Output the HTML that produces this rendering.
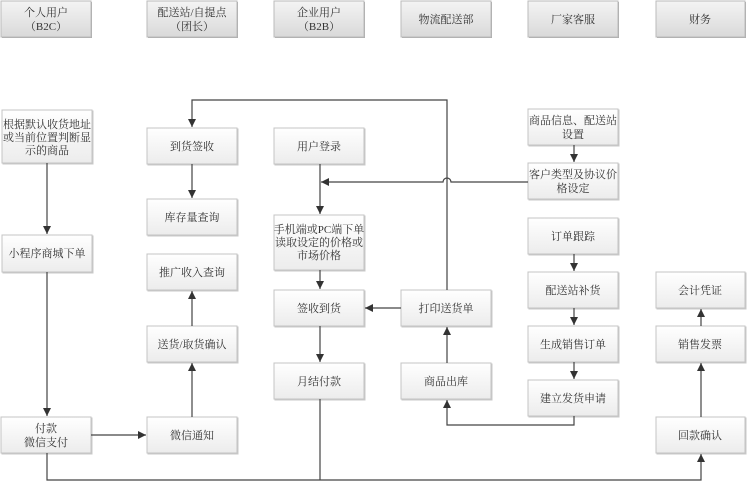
<!DOCTYPE html>
<html><head><meta charset="utf-8"><style>
html,body{margin:0;padding:0;background:#fff}
svg{display:block}
text{font-family:"Liberation Serif","Noto Serif CJK SC","Noto Sans CJK SC",serif;font-size:11px;fill:#333}
</style></head><body>
<svg width="747" height="481" viewBox="0 0 747 481" xmlns="http://www.w3.org/2000/svg">
<defs>
<linearGradient id="h" x1="0" y1="0" x2="0" y2="1"><stop offset="0" stop-color="#f4f4f4"/><stop offset="1" stop-color="#d9d9d9"/></linearGradient>
<linearGradient id="b" x1="0" y1="0" x2="0" y2="1"><stop offset="0" stop-color="#ffffff"/><stop offset="1" stop-color="#ececec"/></linearGradient>
<marker id="a" markerWidth="10" markerHeight="10" refX="9" refY="5" orient="auto" markerUnits="userSpaceOnUse"><path d="M1,1 L9,5 L1,9 Z" fill="#333"/></marker>
</defs>
<g stroke="#bbb" stroke-width="1">
<!-- headers -->
<rect x="2" y="2" width="90" height="36" fill="#aaa" stroke="none"/>
<rect x="1" y="1" width="90" height="36" fill="url(#h)"/>
<rect x="148" y="2" width="90" height="36" fill="#aaa" stroke="none"/>
<rect x="147" y="1" width="90" height="36" fill="url(#h)"/>
<rect x="275" y="2" width="90" height="36" fill="#aaa" stroke="none"/>
<rect x="274" y="1" width="90" height="36" fill="url(#h)"/>
<rect x="402" y="2" width="90" height="36" fill="#aaa" stroke="none"/>
<rect x="401" y="1" width="90" height="36" fill="url(#h)"/>
<rect x="529" y="2" width="90" height="36" fill="#aaa" stroke="none"/>
<rect x="528" y="1" width="90" height="36" fill="url(#h)"/>
<rect x="657" y="2" width="89" height="36" fill="#aaa" stroke="none"/>
<rect x="656" y="1" width="89" height="36" fill="url(#h)"/>
</g>
<g stroke="#c4c4c4" stroke-width="1" fill="url(#b)" style="filter:drop-shadow(1px 1px 0 #c8c8c8)">
<rect x="2" y="110" width="90" height="53"/>
<rect x="2" y="235" width="90" height="37"/>
<rect x="1" y="417" width="90" height="36"/>
<rect x="147" y="128" width="90" height="36"/>
<rect x="147" y="199" width="90" height="36"/>
<rect x="147" y="254" width="90" height="36"/>
<rect x="147" y="326" width="90" height="36"/>
<rect x="147" y="417" width="90" height="36"/>
<rect x="274" y="128" width="90" height="36"/>
<rect x="274" y="215" width="90" height="55"/>
<rect x="274" y="290" width="90" height="36"/>
<rect x="274" y="363" width="90" height="36"/>
<rect x="401" y="290" width="90" height="36"/>
<rect x="401" y="363" width="90" height="36"/>
<rect x="528" y="109" width="90" height="36"/>
<rect x="528" y="163" width="90" height="36"/>
<rect x="528" y="218" width="90" height="36"/>
<rect x="528" y="272" width="90" height="36"/>
<rect x="528" y="326" width="90" height="36"/>
<rect x="528" y="380" width="90" height="36"/>
<rect x="656" y="272" width="89" height="36"/>
<rect x="656" y="326" width="89" height="36"/>
<rect x="656" y="417" width="89" height="36"/>
</g>
<g stroke="#444" stroke-width="1.2" fill="none">
<path d="M47,163 V234" marker-end="url(#a)"/>
<path d="M47,272 V416" marker-end="url(#a)"/>
<path d="M91,435 H146" marker-end="url(#a)"/>
<path d="M192,417 V363" marker-end="url(#a)"/>
<path d="M192,326 V291" marker-end="url(#a)"/>
<path d="M192,164 V198" marker-end="url(#a)"/>
<path d="M447,290 V100 H192 V127" marker-end="url(#a)"/>
<path d="M528,182 H451 A4,4 0 0 0 443,182 H321" marker-end="url(#a)"/>
<path d="M320,164 V214" marker-end="url(#a)"/>
<path d="M320,270 V289" marker-end="url(#a)"/>
<path d="M320,326 V362" marker-end="url(#a)"/>
<path d="M401,308 H365" marker-end="url(#a)"/>
<path d="M447,363 V327" marker-end="url(#a)"/>
<path d="M574,416 V425 H447 V400" marker-end="url(#a)"/>
<path d="M574,145 V162" marker-end="url(#a)"/>
<path d="M574,254 V271" marker-end="url(#a)"/>
<path d="M574,308 V325" marker-end="url(#a)"/>
<path d="M574,362 V379" marker-end="url(#a)"/>
<path d="M701,417 V363" marker-end="url(#a)"/>
<path d="M701,326 V309" marker-end="url(#a)"/>
<path d="M47,453 V480 H701 V454" marker-end="url(#a)"/>
<path d="M320,399 V480"/>
</g>
<g text-anchor="middle">
<text x="46" y="16">个人用户</text><text x="46" y="30">（B2C）</text>
<text x="192" y="16">配送站/自提点</text><text x="192" y="30">（团长）</text>
<text x="319" y="16">企业用户</text><text x="319" y="30">（B2B）</text>
<text x="446" y="23">物流配送部</text>
<text x="573" y="23">厂家客服</text>
<text x="700" y="23">财务</text>
<text x="47" y="128">根据默认收货地址</text><text x="47" y="141">或当前位置判断显</text><text x="47" y="154">示的商品</text>
<text x="47" y="257">小程序商城下单</text>
<text x="46" y="432">付款</text><text x="46" y="446">微信支付</text>
<text x="192" y="150">到货签收</text>
<text x="192" y="221">库存量查询</text>
<text x="192" y="276">推广收入查询</text>
<text x="192" y="348">送货/取货确认</text>
<text x="192" y="439">微信通知</text>
<text x="319" y="150">用户登录</text>
<text x="319" y="233">手机端或PC端下单</text><text x="319" y="246">读取设定的价格或</text><text x="319" y="259">市场价格</text>
<text x="319" y="312">签收到货</text>
<text x="319" y="385">月结付款</text>
<text x="446" y="312">打印送货单</text>
<text x="446" y="385">商品出库</text>
<text x="573" y="124">商品信息、配送站</text><text x="573" y="138">设置</text>
<text x="573" y="178">客户类型及协议价</text><text x="573" y="192">格设定</text>
<text x="573" y="240">订单跟踪</text>
<text x="573" y="294">配送站补货</text>
<text x="573" y="348">生成销售订单</text>
<text x="573" y="402">建立发货申请</text>
<text x="700" y="294">会计凭证</text>
<text x="700" y="348">销售发票</text>
<text x="700" y="439">回款确认</text>
</g>
</svg>
</body></html>
